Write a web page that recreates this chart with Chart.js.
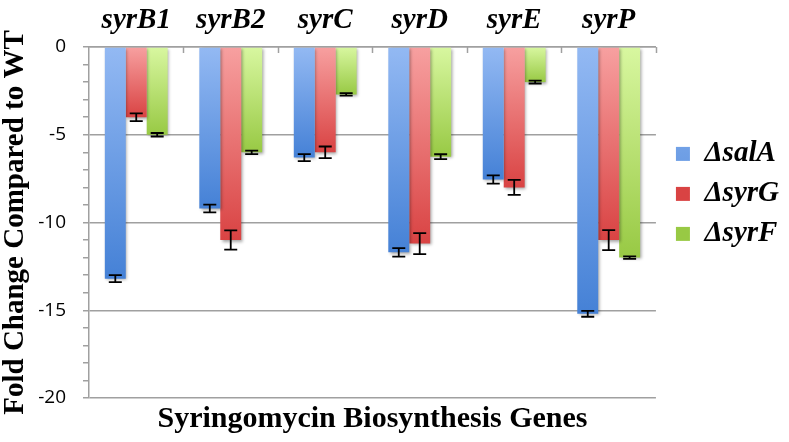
<!DOCTYPE html>
<html>
<head>
<meta charset="utf-8">
<script src="https://cdn.jsdelivr.net/npm/chart.js@4.4.1/dist/chart.umd.min.js"></script>
<style>
  html, body { margin: 0; padding: 0; background: #fff; }
  #wrap { width: 789px; height: 442px; position: relative; }
</style>
</head>
<body>
<div id="wrap"><canvas id="c" width="789" height="442"></canvas></div>
<script>
const categories = ['syrB1', 'syrB2', 'syrC', 'syrD', 'syrE', 'syrP'];
const seriesNames = ['\u0394salA', '\u0394syrG', '\u0394syrF'];
const salA = [-13.2, -9.2, -6.3, -11.7, -7.55, -15.2];
const salAErr = [0.2, 0.22, 0.2, 0.24, 0.23, 0.17];
const syrG = [-4.0, -11.0, -6.0, -11.2, -8.0, -11.0];
const syrGErr = [0.22, 0.55, 0.33, 0.6, 0.43, 0.57];
const syrF = [-5.0, -6.0, -2.7, -6.25, -2.0, -12.0];
const syrFErr = [0.1, 0.1, 0.07, 0.14, 0.08, 0.07];
const yTicks = [0, -5, -10, -15, -20];

const palette = [
  { solid: '#5a8fdf', top: '#93b9f3', bottom: '#4581d6' },
  { solid: '#e05858', top: '#f7a0a0', bottom: '#d94343' },
  { solid: '#b4e06a', top: '#d8f7a0', bottom: '#98c944' }
];

function gradFor(i) {
  return function (ctx) {
    const p = palette[i];
    if (ctx.type !== 'data') return p.solid;
    const chart = ctx.chart;
    if (!chart.chartArea || !chart.scales.y) return p.solid;
    const ys = chart.scales.y;
    const t = ys.getPixelForValue(0);
    const b = ys.getPixelForValue(ctx.raw);
    if (!isFinite(t) || !isFinite(b) || t === b) return p.solid;
    const g = chart.ctx.createLinearGradient(0, t, 0, b);
    g.addColorStop(0, p.top);
    g.addColorStop(1, p.bottom);
    return g;
  };
}

const errs = [salAErr, syrGErr, syrFErr];

const errorBarPlugin = {
  id: 'errorBars',
  beforeDatasetsDraw(chart) {
    const c = chart.ctx;
    c.save();
    c.shadowColor = 'rgba(0,0,0,0.35)';
    c.shadowBlur = 3;
    c.shadowOffsetX = 1.5;
    c.shadowOffsetY = 1.5;
  },
  afterDatasetsDraw(chart) {
    const c = chart.ctx;
    c.restore();
    const ys = chart.scales.y;
    c.save();
    c.strokeStyle = '#000';
    c.lineWidth = 1.8;
    chart.data.datasets.forEach((ds, di) => {
      const meta = chart.getDatasetMeta(di);
      meta.data.forEach((bar, i) => {
        const v = ds.data[i];
        const e = errs[di][i];
        const x = bar.x;
        const y1 = ys.getPixelForValue(v + e);
        const y2 = ys.getPixelForValue(v - e);
        const hw = 6.5;
        c.beginPath();
        c.moveTo(x, y1); c.lineTo(x, y2);
        c.moveTo(x - hw, y1); c.lineTo(x + hw, y1);
        c.moveTo(x - hw, y2); c.lineTo(x + hw, y2);
        c.stroke();
      });
    });
    // inward category boundary ticks on top axis
    const xs = chart.scales.x;
    c.strokeStyle = '#a0a0a0';
    c.lineWidth = 1.5;
    const n = categories.length;
    for (let k = 1; k <= n; k++) {
      const px = Math.round(xs.left + k * (xs.width / n)) + 0.5;
      c.beginPath();
      c.moveTo(px, xs.bottom);
      c.lineTo(px, xs.bottom + 6);
      c.stroke();
    }
    c.restore();
  }
};

new Chart(document.getElementById('c'), {
  type: 'bar',
  data: {
    labels: categories,
    datasets: [
      { label: seriesNames[0], data: salA, backgroundColor: gradFor(0) },
      { label: seriesNames[1], data: syrG, backgroundColor: gradFor(1) },
      { label: seriesNames[2], data: syrF, backgroundColor: gradFor(2) }
    ]
  },
  options: {
    responsive: false,
    animation: false,
    devicePixelRatio: 1,
    datasets: { bar: { categoryPercentage: 0.665, barPercentage: 1.0, borderWidth: 0 } },
    layout: { padding: { left: 0, right: 0, top: 0, bottom: 0 } },
    plugins: {
      tooltip: { enabled: false },
      legend: {
        position: 'right',
        align: 'start',
        title: { display: true, text: '', padding: { top: 114, bottom: 0 } },
        labels: {
          boxWidth: 14,
          boxHeight: 14,
          padding: 11,
          color: '#000',
          font: { family: "'Liberation Serif', 'DejaVu Serif', serif", size: 29, weight: 'bold', style: 'italic' }
        }
      },
      title: {
        display: true,
        position: 'bottom',
        fullSize: false,
        text: 'Syringomycin Biosynthesis Genes',
        color: '#000',
        font: { family: "'Liberation Serif', serif", size: 30, weight: 'bold' },
        padding: { top: 3, bottom: 5 }
      }
    },
    scales: {
      x: {
        position: 'top',
        afterFit: (s) => { s.height = 47; },
        grid: { display: true, drawOnChartArea: false, drawTicks: false, color: '#a0a0a0' },
        border: { display: true, color: '#a0a0a0', width: 1.5 },
        ticks: {
          color: '#000',
          padding: 9,
          font: { family: "'Liberation Serif', serif", size: 29, weight: 'bold', style: 'italic' }
        }
      },
      y: {
        min: -20,
        max: 0,
        afterFit: (s) => { s.width = 89; },
        ticks: {
          stepSize: 1,
          autoSkip: false,
          color: '#000',
          padding: 17,
          font: { family: "'Open Sans', sans-serif", size: 19 },
          callback: (v) => (yTicks.includes(v) ? String(v) : '')
        },
        grid: {
          color: (ctx) => (ctx.tick && yTicks.includes(ctx.tick.value) ? '#a0a0a0' : 'rgba(0,0,0,0)'),
          tickColor: '#a0a0a0',
          tickLength: 6,
          lineWidth: 1.5
        },
        border: { display: true, color: '#a0a0a0', width: 1.5 },
        title: {
          display: true,
          text: 'Fold Change Compared to WT',
          color: '#000',
          padding: { top: -2, bottom: 0 },
          font: { family: "'Liberation Serif', serif", size: 29, weight: 'bold' }
        }
      },
      y2: {
        position: 'right',
        display: true,
        afterFit: (s) => { s.width = 9; },
        grid: { display: false, drawTicks: false },
        border: { display: false },
        ticks: { display: false }
      }
    }
  },
  plugins: [errorBarPlugin]
});
</script>
</body>
</html>
